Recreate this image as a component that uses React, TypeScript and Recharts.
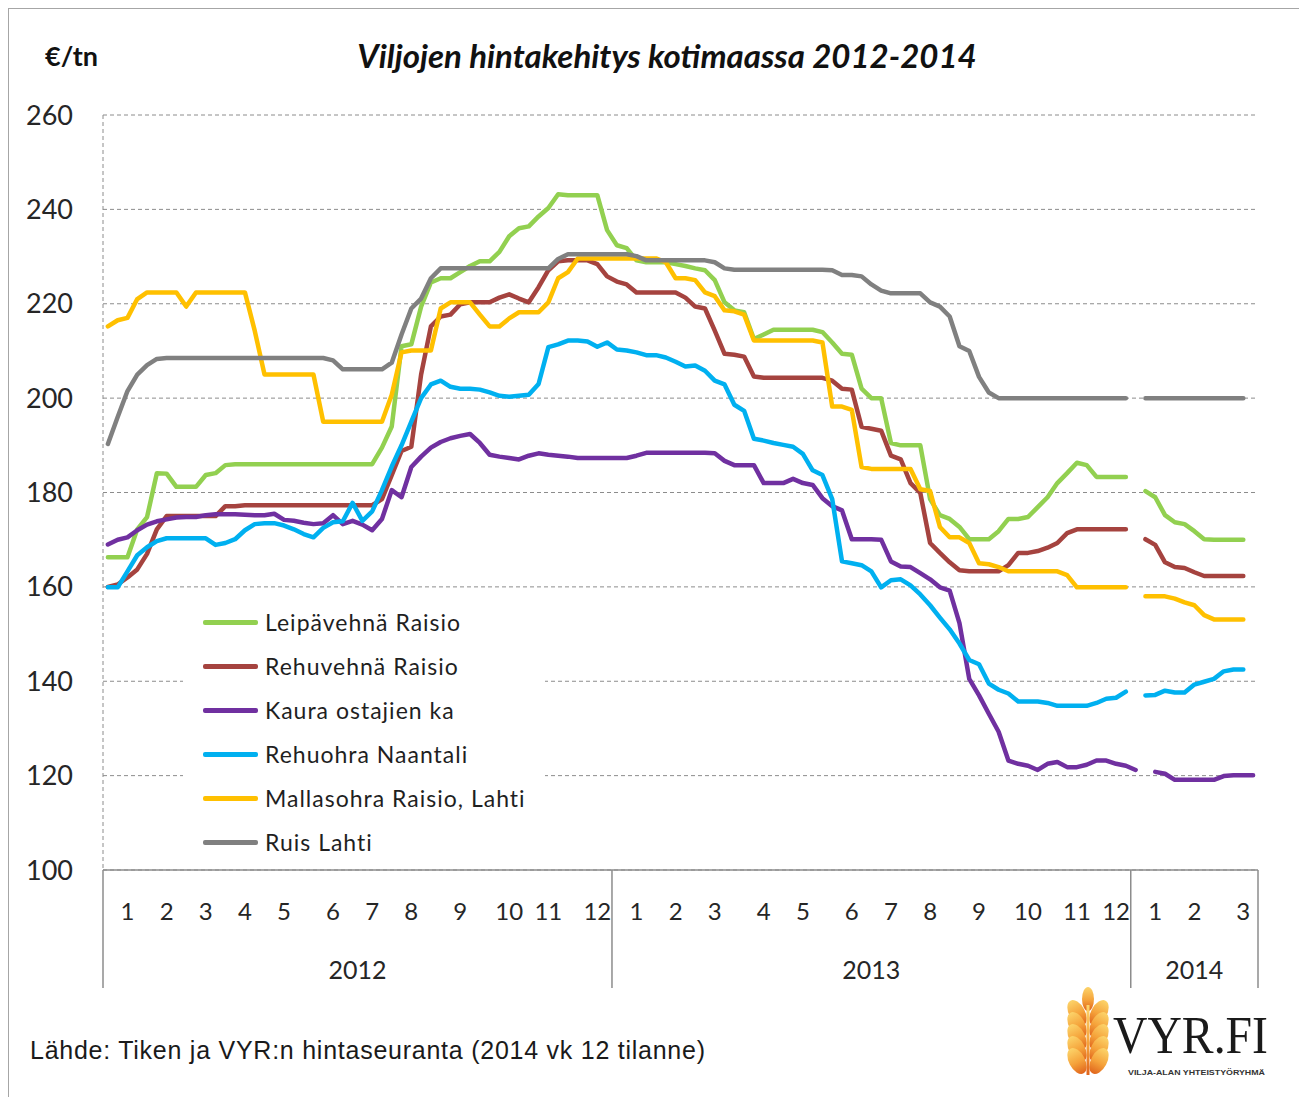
import { LineChart, Line, XAxis, YAxis, CartesianGrid, Legend } from 'recharts';

// weekly categories: 2012 (52 wk), 2013 (53 wk), 2014 (13 wk)
const years = ['2012', '2013', '2014'];
const weeksPerYear = [52, 53, 13];
// week (within year) on which each month label 1..12 is shown
const monthTickWeeks = [
  [2, 6, 10, 14, 18, 23, 27, 31, 36, 41, 45, 50],
  [2, 6, 10, 15, 19, 24, 28, 32, 37, 42, 47, 51],
  [2, 6, 11],
];
const priceTicks = [100, 120, 140, 160, 180, 200, 220, 240, 260];

// €/tn, one value per week, null = no quotation
const leipavehnaRaisio = [
  166.3, 166.3, 166.3, 172.2, 174.8, 184.1, 184, 181.2, 181.2, 181.2,
  183.7, 184.1, 185.8, 186, 186, 186, 186, 186, 186, 186,
  186, 186, 186, 186, 186, 186, 186, 186, 189.5, 194,
  211, 211.4, 219.4, 224.5, 225.4, 225.4, 226.7, 228, 229, 229,
  231, 234.3, 236, 236.4, 238.5, 240.3, 243.2, 243, 243, 243,
  243, 235.6, 232.4, 231.8, 229.2, 228.8, 228.8, 228.8, 228.4, 228,
  227.5, 227.1, 225, 220.3, 218.6, 218.2, 212.5, 213.5, 214.5, 214.5,
  214.5, 214.5, 214.5, 214, 211.8, 209.4, 209.2, 202, 200, 200,
  190.5, 190, 190, 190, 178.6, 175.2, 174.4, 172.7, 170.1, 170.1,
  170.1, 171.8, 174.4, 174.4, 174.8, 176.9, 179, 182, 184.1, 186.3,
  185.8, 183.3, 183.3, 183.3, 183.3, null, 180.3, 179, 175.2, 173.7,
  173.3, 171.8, 170.1, 170, 170, 170, 170, null,
];
const rehuvehnaRaisio = [
  160, 160.5, 162, 163.7, 167, 172.2, 175, 175, 175, 175,
  175, 175, 177.1, 177.1, 177.3, 177.3, 177.3, 177.3, 177.3, 177.3,
  177.3, 177.3, 177.3, 177.3, 177.3, 177.3, 177.3, 177.3, 178.6, 183.7,
  188.8, 189.7, 205, 215.2, 217.3, 217.7, 219.9, 220.3, 220.3, 220.3,
  221.3, 222, 221.1, 220.3, 223.5, 227.1, 229, 229.2, 229.2, 229.2,
  228.4, 225.8, 224.7, 224.1, 222.4, 222.4, 222.4, 222.4, 222.4, 221.3,
  219.4, 219, 214.3, 209.4, 209.2, 208.8, 204.6, 204.3, 204.3, 204.3,
  204.3, 204.3, 204.3, 204.3, 203.7, 202, 201.8, 193.9, 193.5, 193.1,
  187.8, 187, 182, 179.9, 169.3, 167.2, 165.2, 163.5, 163.3, 163.3,
  163.3, 163.3, 164.6, 167.2, 167.2, 167.6, 168.3, 169.3, 171.4, 172.2,
  172.2, 172.2, 172.2, 172.2, 172.2, null, 170.1, 168.9, 165.2, 164.2,
  164, 163.1, 162.3, 162.3, 162.3, 162.3, 162.3, null,
];
const kauraOstajienKa = [
  169, 170, 170.5, 172, 173.2, 173.9, 174.3, 174.7, 174.8, 174.8,
  175.2, 175.4, 175.4, 175.4, 175.3, 175.2, 175.2, 175.5, 174.2, 174,
  173.6, 173.3, 173.5, 175.2, 173.3, 174, 173.2, 172, 174.4, 180.5,
  179, 185.4, 187.6, 189.5, 190.7, 191.5, 192, 192.4, 190.5, 188,
  187.6, 187.3, 187, 187.8, 188.3, 188, 187.8, 187.6, 187.3, 187.3,
  187.3, 187.3, 187.3, 187.3, 187.8, 188.4, 188.4, 188.4, 188.4, 188.4,
  188.4, 188.4, 188.3, 186.7, 185.8, 185.8, 185.8, 182, 182, 182,
  182.9, 182, 181.6, 178.8, 177.1, 176.2, 170.1, 170.1, 170.1, 170,
  165.4, 164.3, 164.2, 162.9, 161.6, 159.9, 159.2, 152.3, 140.5, 137,
  133.1, 129.3, 123.2, 122.5, 122.1, 121.2, 122.5, 122.9, 121.8, 121.8,
  122.3, 123.2, 123.2, 122.5, 122.1, 121.2, null, 120.8, 120.4, 119.1,
  119.1, 119.1, 119.1, 119.1, 119.9, 120.1, 120.1, 120.1,
];
const rehuohraNaantali = [
  159.9, 159.9, 163.3, 166.7, 168.4, 169.7, 170.3, 170.3, 170.3, 170.3,
  170.3, 168.9, 169.3, 170.1, 172, 173.3, 173.5, 173.5, 173, 172.2,
  171.2, 170.5, 172.5, 173.7, 173.9, 177.8, 174, 176, 180.5, 185.5,
  190, 195, 200, 202.9, 203.7, 202.4, 202, 202, 201.8, 201.2,
  200.5, 200.3, 200.5, 200.7, 203, 210.8, 211.4, 212.2, 212.2, 212,
  210.9, 211.8, 210.3, 210.1, 209.7, 209.1, 209.1, 208.6, 207.7, 206.7,
  206.9, 205.8, 203.7, 202.9, 198.6, 197.3, 191.4, 191, 190.5, 190.1,
  189.7, 188.2, 184.7, 183.7, 178.6, 165.4, 165, 164.6, 163.3, 159.9,
  161.4, 161.6, 160.3, 158.4, 156.1, 153.5, 151, 148, 144.5, 143.6,
  139.5, 138.2, 137.4, 135.7, 135.7, 135.7, 135.4, 134.8, 134.8, 134.8,
  134.8, 135.4, 136.3, 136.5, 137.8, null, 137, 137.1, 138, 137.6,
  137.6, 139.3, 139.9, 140.5, 142.1, 142.5, 142.5, null,
];
const mallasohraRaisioLahti = [
  215.2, 216.5, 217, 221, 222.4, 222.4, 222.4, 222.4, 219.4, 222.4,
  222.4, 222.4, 222.4, 222.4, 222.4, 214.3, 205, 205, 205, 205,
  205, 205, 195, 195, 195, 195, 195, 195, 195, 200.7,
  209.7, 210.1, 210.1, 210.1, 219, 220.3, 220.3, 220.3, 217.7, 215.2,
  215.2, 216.9, 218.2, 218.2, 218.2, 220.3, 225.4, 226.7, 229.6, 229.6,
  229.6, 229.6, 229.6, 229.6, 229.6, 229.6, 229.6, 228.8, 225.4, 225.4,
  225, 222.4, 221.6, 218.6, 218.4, 217.7, 212.2, 212.2, 212.2, 212.2,
  212.2, 212.2, 212.2, 211.8, 198.2, 198.2, 197.5, 185.4, 185, 185,
  185, 185, 185, 180.7, 180.3, 172.7, 170.5, 170.5, 169.3, 165,
  164.8, 164.2, 163.3, 163.3, 163.3, 163.3, 163.3, 163.3, 162.5, 159.9,
  159.9, 159.9, 159.9, 159.9, 159.9, null, 158, 158, 158, 157.5,
  156.7, 156.1, 154, 153.1, 153.1, 153.1, 153.1, null,
];
const ruisLahti = [
  190.3, 196, 201.5, 205, 207, 208.3, 208.5, 208.5, 208.5, 208.5,
  208.5, 208.5, 208.5, 208.5, 208.5, 208.5, 208.5, 208.5, 208.5, 208.5,
  208.5, 208.5, 208.5, 208, 206.1, 206.1, 206.1, 206.1, 206.1, 207.5,
  213.5, 219, 221.1, 225.4, 227.5, 227.5, 227.5, 227.5, 227.5, 227.5,
  227.5, 227.5, 227.5, 227.5, 227.5, 227.5, 229.5, 230.5, 230.5, 230.5,
  230.5, 230.5, 230.5, 230.5, 230.1, 229.2, 229.2, 229.2, 229.2, 229.2,
  229.2, 229.2, 228.8, 227.5, 227.2, 227.2, 227.2, 227.2, 227.2, 227.2,
  227.2, 227.2, 227.2, 227.2, 227.1, 226.1, 226.1, 225.8, 224.1, 222.8,
  222.2, 222.2, 222.2, 222.2, 220.3, 219.4, 217.3, 211, 210, 204.5,
  201.2, 200, 200, 200, 200, 200, 200, 200, 200, 200,
  200, 200, 200, 200, 200, null, 200, 200, 200, 200,
  200, 200, 200, 200, 200, 200, 200, null,
];

const series = [
  { key: 'leipa', name: 'Leipävehnä Raisio', color: '#92D050', values: leipavehnaRaisio },
  { key: 'rehuvehna', name: 'Rehuvehnä Raisio', color: '#A5433F', values: rehuvehnaRaisio },
  { key: 'kaura', name: 'Kaura ostajien ka', color: '#7030A0', values: kauraOstajienKa },
  { key: 'rehuohra', name: 'Rehuohra Naantali', color: '#00B0F0', values: rehuohraNaantali },
  { key: 'mallas', name: 'Mallasohra Raisio, Lahti', color: '#FFC000', values: mallasohraRaisioLahti },
  { key: 'ruis', name: 'Ruis Lahti', color: '#808080', values: ruisLahti },
];

const yearStart = weeksPerYear.map((_, i) => weeksPerYear.slice(0, i).reduce((a, b) => a + b, 0));
const totalWeeks = weeksPerYear.reduce((a, b) => a + b, 0);

const monthLabelAt: Record<number, string> = {};
monthTickWeeks.forEach((ws, yi) =>
  ws.forEach((w, m) => {
    monthLabelAt[yearStart[yi] + w] = String(m + 1);
  }),
);

const chartData = Array.from({ length: totalWeeks }, (_, i) => {
  const row: Record<string, number | null> = { week: i };
  series.forEach((s) => {
    row[s.key] = s.values[i] ?? null;
  });
  return row;
});

const CHART_W = 1290;
const CHART_H = 1000;
const MARGIN = { top: 107, right: 40, bottom: 18, left: 0 };
const Y_AXIS_W = 95;
const X_AXIS_H = 120;
// width of one week; half of it is padded at both ends so weeks sit in the middle of their slot
const BAND = (CHART_W - MARGIN.left - MARGIN.right - Y_AXIS_W) / totalWeeks;
const AXIS_GREY = '#8c8c8c';
const TEXT = '#262626';

const WeekTick = (props: any) => {
  const { x, y, payload } = props;
  const w = payload.value as number;
  const yi = yearStart.indexOf(w);
  const isLast = w === totalWeeks - 1;
  return (
    <g>
      {monthLabelAt[w] && (
        <text x={x} y={y + 40} textAnchor="middle" dominantBaseline="central" fontSize={24} fill={TEXT} fontFamily="Lato">
          {monthLabelAt[w]}
        </text>
      )}
      {yi >= 0 && (
        <>
          <line x1={x - BAND / 2} x2={x - BAND / 2} y1={y} y2={y + 118} stroke={AXIS_GREY} strokeWidth={1.5} />
          <text
            x={x - BAND / 2 + (BAND * weeksPerYear[yi]) / 2}
            y={y + 99}
            textAnchor="middle"
            dominantBaseline="central"
            fontSize={25}
            fill={TEXT}
            fontFamily="Lato"
          >
            {years[yi]}
          </text>
        </>
      )}
      {isLast && <line x1={x + BAND / 2} x2={x + BAND / 2} y1={y} y2={y + 118} stroke={AXIS_GREY} strokeWidth={1.5} />}
    </g>
  );
};

const LegendBox = () => (
  <div style={{ background: '#fff', width: 362, height: 264, paddingTop: 2, boxSizing: 'border-box' }}>
    {series.map((s) => (
      <div key={s.key} style={{ display: 'flex', alignItems: 'center', height: 44 }}>
        <span style={{ display: 'inline-block', marginLeft: 20, width: 55, height: 5, background: s.color, borderRadius: 2 }} />
        <span style={{ marginLeft: 7, fontSize: 23, letterSpacing: 1, color: '#1f1f1f', fontFamily: 'Lato' }}>{s.name}</span>
      </div>
    ))}
  </div>
);

const VyrLogo = () => {
  const grains = [0, 1, 2, 3, 4];
  return (
    <svg width={250} height={96} style={{ position: 'absolute', left: 1037, top: 977 }}>
      <defs>
        <linearGradient id="wheat" x1="0" y1="0" x2="0" y2="1">
          <stop offset="0%" stopColor="#FCD46A" />
          <stop offset="55%" stopColor="#F5A23A" />
          <stop offset="100%" stopColor="#E0641C" />
        </linearGradient>
      </defs>
      <g fill="url(#wheat)">
        <ellipse cx={43} cy={14} rx={6} ry={12} />
        {grains.map((g) => (
          <g key={g}>
            <ellipse cx={32} cy={28 + g * 12} rx={8} ry={14} transform={`rotate(-28 32 ${28 + g * 12})`} />
            <ellipse cx={54} cy={28 + g * 12} rx={8} ry={14} transform={`rotate(28 54 ${28 + g * 12})`} />
          </g>
        ))}
        <rect x={41.5} y={20} width={3} height={70} />
      </g>
      <text x={68} y={68} fontFamily="Liberation Serif" fontSize={52} fill="#1a1a1a" textLength={155} lengthAdjust="spacingAndGlyphs">
        VYR.FI
      </text>
      <text x={83} y={90} fontFamily="Liberation Sans" fontWeight={700} fontSize={7} fill="#333" textLength={137} lengthAdjust="spacingAndGlyphs">
        VILJA-ALAN YHTEISTYÖRYHMÄ
      </text>
    </svg>
  );
};

export default function App() {
  return (
    <div style={{ position: 'relative', width: 1299, height: 1089, background: '#fff', fontFamily: 'Lato, sans-serif' }}>
      <div style={{ position: 'absolute', left: -1, top: -1, width: 1300, height: 2, background: '#a6a6a6' }} />
      <div style={{ position: 'absolute', left: -1, top: -1, width: 2, height: 1090, background: '#a6a6a6' }} />

      <div style={{ position: 'absolute', left: 37, top: 30, lineHeight: '36px', fontSize: 27, fontWeight: 700, color: '#111' }}>€/tn</div>
      <div
        style={{
          position: 'absolute',
          left: 0,
          width: 1318,
          top: 29,
          lineHeight: '36px',
          textAlign: 'center',
          fontSize: 33,
          fontWeight: 700,
          fontStyle: 'italic',
          color: '#111',
        }}
      >
        Viljojen hintakehitys kotimaassa 2012-2014
      </div>

      <div style={{ position: 'absolute', left: 0, top: 0 }}>
        <LineChart width={CHART_W} height={CHART_H} data={chartData} margin={MARGIN}>
          <CartesianGrid vertical={false} stroke={AXIS_GREY} strokeDasharray="4 3" />
          <XAxis
            dataKey="week"
            type="category"
            interval={0}
            height={X_AXIS_H}
            padding={{ left: BAND / 2, right: BAND / 2 }}
            tickLine={false}
            tickSize={0}
            tickMargin={0}
            axisLine={{ stroke: AXIS_GREY, strokeWidth: 1.5 }}
            tick={(p: any) => <WeekTick {...p} />}
          />
          <YAxis
            type="number"
            domain={[100, 260]}
            ticks={priceTicks}
            interval={0}
            width={Y_AXIS_W}
            tickLine={false}
            tickSize={0}
            tickMargin={30}
            axisLine={{ stroke: AXIS_GREY, strokeDasharray: '4 3' }}
            tick={{ fill: TEXT, fontSize: 27, fontFamily: 'Lato' }}
          />
          <Legend
            layout="vertical"
            align="center"
            verticalAlign="middle"
            wrapperStyle={{ left: 175, top: 590, width: 362, height: 264 }}
            content={() => <LegendBox />}
          />
          {series.map((s) => (
            <Line
              key={s.key}
              type="linear"
              dataKey={s.key}
              name={s.name}
              stroke={s.color}
              strokeWidth={4.5}
              strokeLinecap="round"
              strokeLinejoin="round"
              dot={false}
              activeDot={false}
              isAnimationActive={false}
            />
          ))}
        </LineChart>
      </div>

      <div
        style={{
          position: 'absolute',
          left: 22,
          top: 1028,
          lineHeight: '28px',
          fontSize: 25,
          letterSpacing: 0.75,
          fontFamily: '"Liberation Sans", Arial, sans-serif',
          color: '#1a1a1a',
        }}
      >
        Lähde: Tiken ja VYR:n hintaseuranta (2014 vk 12 tilanne)
      </div>
      <VyrLogo />
    </div>
  );
}
